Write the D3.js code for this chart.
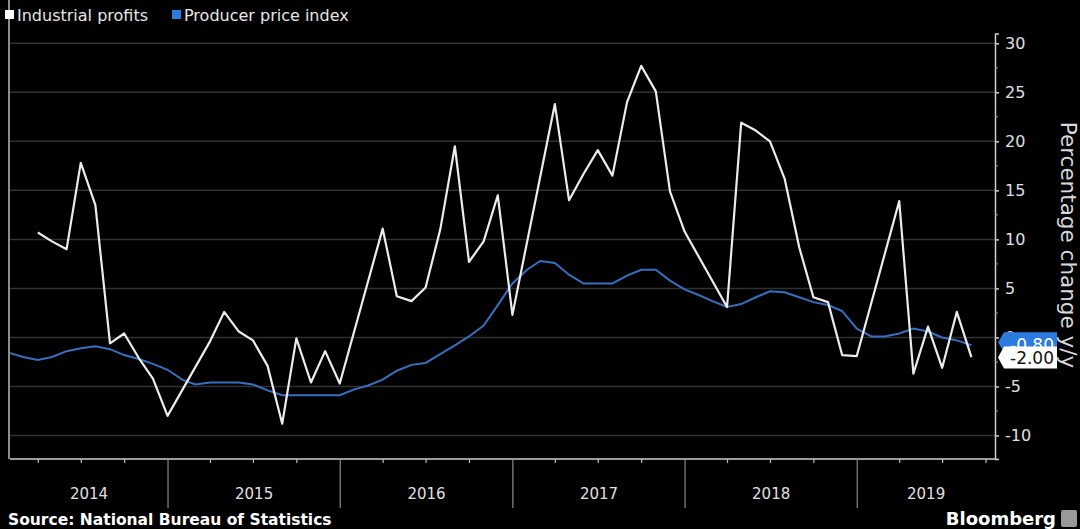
<!DOCTYPE html>
<html>
<head>
<meta charset="utf-8">
<script src="https://cdn.jsdelivr.net/npm/d3@7"></script>
<style>
  body { margin: 0; background: #000; }
  svg { display: block; }
  text { font-family: "DejaVu Sans", sans-serif; }
</style>
</head>
<body>
<script>
// producer price index, y/y %, monthly from Jan 2014
var ppiStart = "2014-01";
var ppiValues = [
  -1.6, -2.0, -2.3, -2.0, -1.4, -1.1, -0.9, -1.2, -1.8, -2.2, -2.7, -3.3,
  -4.3, -4.8, -4.6, -4.6, -4.6, -4.8, -5.4, -5.9, -5.9, -5.9, -5.9, -5.9,
  -5.3, -4.9, -4.3, -3.4, -2.8, -2.6, -1.7, -0.8, 0.1, 1.2, 3.3, 5.5,
  6.9, 7.8, 7.6, 6.4, 5.5, 5.5, 5.5, 6.3, 6.9, 6.9, 5.8, 4.9,
  4.3, 3.7, 3.1, 3.4, 4.1, 4.7, 4.6, 4.1, 3.6, 3.3, 2.7, 0.9,
  0.1, 0.1, 0.4, 0.9, 0.6, 0.0, -0.3, -0.8
];

// industrial profits, y/y % (no Jan/Feb points)
var profitMonths = [
  "2014-03","2014-04","2014-05","2014-06","2014-07","2014-08","2014-09","2014-10","2014-11","2014-12",
  "2015-03","2015-04","2015-05","2015-06","2015-07","2015-08","2015-09","2015-10","2015-11","2015-12",
  "2016-03","2016-04","2016-05","2016-06","2016-07","2016-08","2016-09","2016-10","2016-11","2016-12",
  "2017-03","2017-04","2017-05","2017-06","2017-07","2017-08","2017-09","2017-10","2017-11","2017-12",
  "2018-03","2018-04","2018-05","2018-06","2018-07","2018-08","2018-09","2018-10","2018-11","2018-12",
  "2019-03","2019-04","2019-05","2019-06","2019-07","2019-08"
];
var profitValues = [
  10.7, 9.8, 9.0, 17.8, 13.5, -0.6, 0.4, -2.1, -4.2, -8.0,
  -0.4, 2.6, 0.6, -0.3, -2.9, -8.8, -0.1, -4.6, -1.4, -4.7,
  11.1, 4.2, 3.7, 5.1, 11.0, 19.5, 7.7, 9.8, 14.5, 2.3,
  23.8, 14.0, 16.7, 19.1, 16.5, 24.0, 27.7, 25.1, 14.9, 10.8,
  3.1, 21.9, 21.1, 20.0, 16.2, 9.2, 4.1, 3.6, -1.8, -1.9,
  13.9, -3.7, 1.1, -3.1, 2.6, -2.0
];

var yTicks = [-10, -5, 0, 5, 10, 15, 20, 25, 30];
var years = [2014, 2015, 2016, 2017, 2018, 2019];
var seriesNames = ["Industrial profits", "Producer price index"];
var seriesColors = ["#ececec", "#3570c0"];

var width = 1080, height = 529;
var plotLeft = 10, plotRight = 995, plotTop = 33.5, plotBottom = 459;

var parseMonth = d3.timeParse("%Y-%m");
// points sit at the last day of each month
function monthEnd(s) {
  return d3.timeDay.offset(d3.timeMonth.offset(parseMonth(s), 1), -1);
}

var ppiData = ppiValues.map(function(v, i) {
  var start = parseMonth(ppiStart);
  return { date: d3.timeDay.offset(d3.timeMonth.offset(start, i + 1), -1), value: v };
});
var profitData = profitMonths.map(function(m, i) {
  return { date: monthEnd(m), value: profitValues[i] };
});

var svg = d3.select("body").append("svg")
  .attr("width", width)
  .attr("height", height);

svg.append("rect").attr("width", width).attr("height", height).attr("fill", "#000");

var x = d3.scaleTime()
  .domain([new Date(2014, 0, 31), new Date(2019, 9, 20)])
  .range([plotLeft, plotRight]);

var y = d3.scaleLinear()
  .domain([-12.4, 31])
  .range([plotBottom, plotTop]);

// gridlines
svg.append("g")
  .selectAll("line")
  .data(yTicks)
  .join("line")
    .attr("x1", plotLeft)
    .attr("x2", plotRight)
    .attr("y1", function(d) { return y(d); })
    .attr("y2", function(d) { return y(d); })
    .attr("stroke", "#303030")
    .attr("stroke-width", 1.5);

// left edge line
svg.append("line")
  .attr("x1", 9).attr("x2", 9)
  .attr("y1", 0).attr("y2", plotBottom)
  .attr("stroke", "#bdbdbd").attr("stroke-width", 1.5);

// right axis
var yAxis = svg.append("g")
  .attr("transform", "translate(" + plotRight + ",0)")
  .call(d3.axisRight(y).tickValues(yTicks).tickSize(4).tickPadding(6).tickFormat(function(d) { return String(d); }));
yAxis.select(".domain").attr("stroke", "#cfcfcf").attr("stroke-width", 1.5);
yAxis.selectAll(".tick line").attr("stroke", "#cfcfcf").attr("stroke-width", 1.5);
yAxis.selectAll(".tick text")
  .attr("fill", "#e0e0e0")
  .style("font-size", "16px");

// minor y ticks
var minorY = yTicks.map(function(d) { return d - 2.5; }).filter(function(d) { return d > -12.4; });
svg.append("g")
  .selectAll("line")
  .data(minorY)
  .join("line")
    .attr("x1", plotRight).attr("x2", plotRight + 3)
    .attr("y1", function(d) { return y(d); })
    .attr("y2", function(d) { return y(d); })
    .attr("stroke", "#9a9a9a");

// bottom axis
svg.append("line")
  .attr("x1", plotLeft).attr("x2", plotRight)
  .attr("y1", plotBottom).attr("y2", plotBottom)
  .attr("stroke", "#cfcfcf").attr("stroke-width", 1.5);

var quarterTicks = d3.timeMonth.every(3).range(new Date(2014, 1, 1), x.domain()[1])
  .filter(function(d) { return d.getMonth() !== 0; });
svg.append("g")
  .selectAll("line")
  .data(quarterTicks)
  .join("line")
    .attr("x1", function(d) { return x(d); })
    .attr("x2", function(d) { return x(d); })
    .attr("y1", plotBottom).attr("y2", plotBottom + 4)
    .attr("stroke", "#bdbdbd").attr("stroke-width", 1.2);

var yearStarts = years.slice(1).map(function(yr) { return new Date(yr, 0, 1); });
svg.append("g")
  .selectAll("line")
  .data(yearStarts)
  .join("line")
    .attr("x1", function(d) { return x(d); })
    .attr("x2", function(d) { return x(d); })
    .attr("y1", plotBottom).attr("y2", 508)
    .attr("stroke", "#8a8a8a").attr("stroke-width", 1.2);

svg.append("g")
  .selectAll("text")
  .data(years)
  .join("text")
    .attr("x", function(yr) {
      var a = Math.max(x(new Date(yr, 0, 1)), plotLeft);
      var b = Math.min(x(new Date(yr + 1, 0, 1)), plotRight);
      return (a + b) / 2;
    })
    .attr("y", 499)
    .attr("text-anchor", "middle")
    .attr("fill", "#e0e0e0")
    .style("font-size", "15px")
    .text(function(yr) { return yr; });

// lines
var line = d3.line()
  .x(function(d) { return x(d.date); })
  .y(function(d) { return y(d.value); });

svg.append("path")
  .datum(ppiData)
  .attr("d", line)
  .attr("fill", "none")
  .attr("stroke", seriesColors[1])
  .attr("stroke-width", 2);

svg.append("path")
  .datum(profitData)
  .attr("d", line)
  .attr("fill", "none")
  .attr("stroke", seriesColors[0])
  .attr("stroke-width", 2.2)
  .attr("stroke-linejoin", "round");

// end-value tags
function tag(cy, h, fill, textFill, label, dy) {
  var x0 = plotRight + 3, w = 59;
  var g = svg.append("g");
  g.append("path")
    .attr("d", "M" + x0 + "," + cy + " L" + (x0 + 6) + "," + (cy - h / 2) + " H" + (x0 + w) +
      " V" + (cy + h / 2) + " H" + (x0 + 6) + " Z")
    .attr("fill", fill);
  g.append("text")
    .attr("x", x0 + w - 3)
    .attr("y", cy + dy)
    .attr("text-anchor", "end")
    .attr("fill", textFill)
    .style("font-size", "17px")
    .text(label);
}
var lastPpi = ppiData[ppiData.length - 1];
var lastProfit = profitData[profitData.length - 1];
tag(y(lastPpi.value) - 3, 20, "#2b7be0", "#ffffff", lastPpi.value.toFixed(2), 9);
tag(y(lastProfit.value) + 0.5, 22, "#ffffff", "#111111", lastProfit.value.toFixed(2), 6);

// axis title
svg.append("text")
  .attr("transform", "translate(1061,245) rotate(90)")
  .attr("text-anchor", "middle")
  .attr("fill", "#d8d8d8")
  .style("font-size", "21.5px")
  .text("Percentage change y/y");

// legend
var legendX = [5, 172];
seriesNames.forEach(function(name, i) {
  svg.append("rect")
    .attr("x", legendX[i]).attr("y", 10)
    .attr("width", 9).attr("height", 9)
    .attr("fill", i === 0 ? "#ffffff" : "#2b7be0");
  svg.append("text")
    .attr("x", legendX[i] + 12).attr("y", 20.5)
    .attr("fill", "#e6e6e6")
    .style("font-size", "16px")
    .text(name);
});

// footer
svg.append("text")
  .attr("x", 8).attr("y", 525)
  .attr("fill", "#ffffff")
  .style("font-size", "15.5px")
  .style("font-weight", "bold")
  .text("Source: National Bureau of Statistics");

svg.append("text")
  .attr("x", 1056).attr("y", 525)
  .attr("text-anchor", "end")
  .attr("fill", "#ffffff")
  .style("font-size", "18px")
  .style("font-weight", "bold")
  .text("Bloomberg");
svg.append("rect")
  .attr("x", 1061).attr("y", 510)
  .attr("width", 16).attr("height", 17)
  .attr("rx", 2)
  .attr("fill", "#9a9a9a");
</script>
</body>
</html>
